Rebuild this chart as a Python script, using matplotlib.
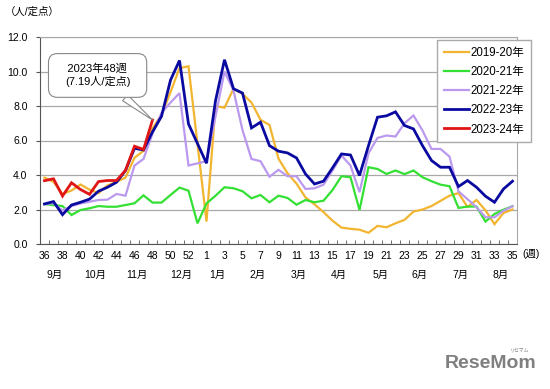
import numpy as np
import matplotlib
matplotlib.use('Agg')
import matplotlib.pyplot as plt

plt.rcParams['font.family'] = ['Liberation Sans', 'Noto Sans CJK JP']

# categories: weeks 36..52, 53, 1..35
weeks = list(range(36, 53)) + [53] + list(range(1, 36))
tick_labels = [str(w) if i % 2 == 0 else '' for i, w in enumerate(weeks)]
nan = np.nan

y2019 = [3.85, 3.6, 2.9, 3.1, 3.45, 3.15, 2.95, 3.4, 3.6, 3.85, 5.0, 5.4, 6.7, 7.5, 8.8, 10.2, 10.3,
         nan,
         1.3, 8.0, 7.9, 9.0, 8.7, 8.2, 7.2, 6.9, 4.95, 4.1, 3.5, 2.7, 2.3, 1.85, 1.35, 0.95, 0.88, 0.83,
         0.65, 1.05, 0.97, 1.2, 1.4, 1.88, 2.0, 2.2, 2.5, 2.8, 2.95, 2.15, 2.55, 1.95, 1.15, 1.8, 2.0]
y2020 = [2.32, 2.25, 2.2, 1.68, 1.97, 2.07, 2.2, 2.16, 2.16, 2.26, 2.36, 2.82, 2.4, 2.4, 2.84, 3.27, 3.09,
         1.2,
         2.35, 2.8, 3.29, 3.23, 3.06, 2.65, 2.84, 2.42, 2.8, 2.67, 2.28, 2.55, 2.42, 2.51, 3.13, 3.93, 3.87,
         1.97, 4.45, 4.35, 4.06, 4.26, 4.05, 4.26, 3.87, 3.64, 3.44, 3.35, 2.09, 2.17, 2.17, 1.3, 1.74, 1.99, 2.19]
y2021 = [2.32, 2.36, 1.95, 2.2, 2.35, 2.45, 2.55, 2.57, 2.9, 2.8, 4.55, 4.93, 6.4, 7.6, 8.2, 8.75, 4.55,
         nan,
         4.8, 7.4, 10.0, 8.9, 6.6, 4.93, 4.8, 3.9, 4.3, 3.93, 3.93, 3.19, 3.23, 3.44, 4.26, 5.13, 4.55,
         3.0, 5.26, 6.15, 6.29, 6.23, 7.0, 7.45, 6.58, 5.51, 5.51, 5.07, 3.05, 2.6, 2.13, 1.55, 1.55, 1.93, 2.19]
y2022 = [2.32, 2.46, 1.7, 2.26, 2.42, 2.6, 3.06, 3.29, 3.58, 4.26, 5.55, 5.45, 6.5, 7.4, 9.5, 10.64, 6.96,
         nan,
         4.68, 8.3, 10.68, 9.0, 8.75, 6.73, 7.06, 5.7, 5.38, 5.28, 4.99, 4.06, 3.48, 3.64, 4.41, 5.22, 5.16,
         3.97, 5.7, 7.35, 7.43, 7.66, 6.87, 6.67, 5.7, 4.84, 4.45, 4.45, 3.33, 3.68, 3.29, 2.77, 2.42, 3.19, 3.64]
y2023 = [3.67, 3.78, 2.78, 3.55, 3.16, 2.88, 3.62, 3.68, 3.68, 4.27, 5.67, 5.48, 7.19]

series = [('2019-20年', y2019, '#F2B530', 1.6),
          ('2020-21年', y2020, '#33E033', 1.6),
          ('2021-22年', y2021, '#BB99EE', 1.6),
          ('2022-23年', y2022, '#0A0AA0', 2.0),
          ('2023-24年', y2023, '#E01515', 2.0)]

months = ['9月', '10月', '11月', '12月', '1月', '2月', '3月', '4月', '5月', '6月', '7月', '8月']
month_x = [1.1, 5.6, 10.3, 15.2, 19.2, 23.7, 28.2, 32.7, 37.4, 41.7, 46.2, 50.7]

fig = plt.figure(figsize=(5.5, 3.89), dpi=100)
ax = fig.add_axes([40 / 550, 1 - 244 / 389, 477 / 550, 207 / 389])

for name, vals, col, lw in series:
    v = np.array(vals, dtype=float)
    x = np.arange(len(v))
    ok = ~np.isnan(v)
    ax.plot(x[ok], v[ok], color=col, lw=lw, label=name, solid_joinstyle='miter')

ax.set_xlim(-0.5, len(weeks) - 0.5)
ax.set_ylim(0, 12)
ax.set_yticks(np.arange(0, 12.1, 2))
ax.set_yticklabels(['%.1f' % t for t in np.arange(0, 12.1, 2)], fontsize=7.5)
ax.set_xticks(np.arange(len(weeks)))
ax.set_xticklabels(tick_labels, fontsize=7.5)
ax.set_xticks(np.arange(len(weeks) + 1) - 0.5, minor=True)
ax.tick_params(axis='x', which='major', length=0, pad=5)
ax.tick_params(axis='x', which='minor', direction='in', length=3, color='#555555')
ax.tick_params(axis='y', length=3, color='#555555', pad=6)
ax.grid(axis='y', color='#A8A8A8', lw=0.9)
ax.set_axisbelow(True)
for s in ['left', 'bottom']:
    ax.spines[s].set_color('#555555')
for s in ['top', 'right']:
    ax.spines[s].set_color('#A8A8A8')

for m, mx in zip(months, month_x):
    ax.text(mx, -0.15, m, transform=ax.get_xaxis_transform(), ha='center', va='center', fontsize=7.5)
fig.text(531 / 550, 1 - 254 / 389, '(週)', ha='center', va='center', fontsize=7.5)
fig.text(5 / 550, 1 - 12 / 389, '（人/定点）', ha='left', va='center', fontsize=7.5)

ax.annotate('   2023年48週   \n(7.19人/定点)', xy=(12, y2023[12]), xytext=(5.9, 9.77),
            ha='center', va='center', multialignment='center', fontsize=8, linespacing=1.25,
            bbox=dict(boxstyle='round,pad=0.9,rounding_size=0.8', fc='white', ec='#888888', lw=0.8),
            arrowprops=dict(arrowstyle='wedge,tail_width=0.7', fc='white', ec='#888888', lw=0.8,
                            shrinkA=0, shrinkB=0))

fig.legend(loc='upper left', bbox_to_anchor=(437 / 550, 1 - 40 / 389), fontsize=8.3,
           frameon=True, fancybox=False, edgecolor='#AAAAAA', framealpha=1,
           handlelength=2.2, labelspacing=0.62, handletextpad=0.1, borderpad=0.6, borderaxespad=0)

fig.text(491 / 550, 1 - 363 / 389, 'ReseMom', ha='center', va='center', fontsize=14,
         fontweight='bold', color='#808080')
fig.text(520 / 550, 1 - 350 / 389, 'リセマム', ha='center', va='center', fontsize=3.5, color='#808080')

fig.savefig('out.png', dpi=100)
